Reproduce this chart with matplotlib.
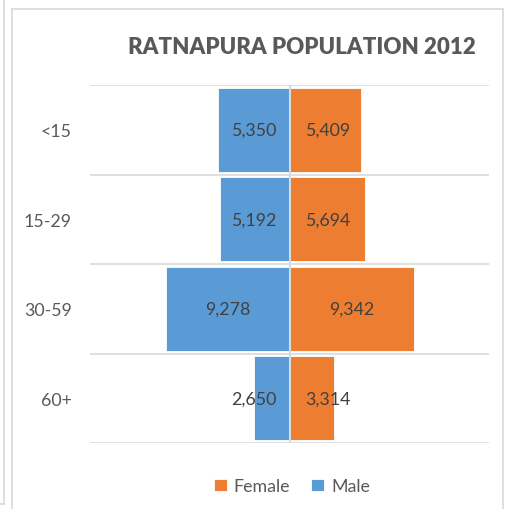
import matplotlib.pyplot as plt
from matplotlib.lines import Line2D
import numpy as np

# data
age_groups = ['<15', '15-29', '30-59', '60+']
male = [5350, 5192, 9278, 2650]
female = [5409, 5694, 9342, 3314]

blue = '#5B9BD5'
orange = '#ED7D31'
grid_col = '#D9D9D9'

plt.rcParams['font.family'] = ['Lato', 'DejaVu Sans']

fig = plt.figure(figsize=(5.13, 5.10), dpi=100)
ax = fig.add_axes([90 / 513, 66 / 510, 399 / 513, 358 / 510])

y = np.arange(len(age_groups))
ax.barh(y, [-m for m in male], height=0.94, color=blue, edgecolor='white', linewidth=0.6, label='Male', zorder=2)
ax.barh(y, female, height=0.94, color=orange, edgecolor='white', linewidth=0.6, label='Female', zorder=2)

# value labels (centred, pushed out a bit for the short bars)
for i in range(len(age_groups)):
    ax.text(-max(male[i] / 2, 2700), y[i], f'{male[i]:,}', ha='center', va='center',
            fontsize=12.8, color='#404040', zorder=3)
    ax.text(max(female[i] / 2, 2850), y[i], f'{female[i]:,}', ha='center', va='center',
            fontsize=12.8, color='#404040', zorder=3)

ax.set_xlim(-15000, 15000)
ax.set_ylim(len(age_groups) - 0.5, -0.5)
for b in np.arange(-0.5, len(age_groups), 1.0):
    ax.axhline(b, color=grid_col, lw=1.2, zorder=1)
ax.axvline(0, color=grid_col, lw=1.5, zorder=3)

ax.set_yticks(y)
ax.set_yticklabels(age_groups, fontsize=12.8, color='#595959')
ax.tick_params(axis='y', length=0, pad=13)
ax.set_xticks([])
for s in ax.spines.values():
    s.set_visible(False)

fig.text(302 / 513, 1 - 48 / 510, 'RATNAPURA POPULATION 2012', ha='center', va='center',
         fontsize=16, fontweight='heavy', color='#595959')

h, l = ax.get_legend_handles_labels()
leg = fig.legend([h[1], h[0]], [l[1], l[0]], loc='center', bbox_to_anchor=(292 / 513, 23 / 510),
                 ncol=2, frameon=False, fontsize=12.8, handlelength=0.7, handleheight=0.7,
                 handletextpad=0.4, columnspacing=1.2)
for t in leg.get_texts():
    t.set_color('#595959')

# chart frame
W, H = 513, 510
def fline(x0, y0, x1, y1):
    fig.add_artist(Line2D([x0 / W, x1 / W], [1 - y0 / H, 1 - y1 / H], color=grid_col, lw=1.2))

fline(12, 10, 503, 10)
fline(12, 10, 12, 510)
fline(503, 10, 503, 510)
fline(4, 0, 4, 505)
fline(0, 505, 4, 505)

fig.savefig('out.png', dpi=100)
